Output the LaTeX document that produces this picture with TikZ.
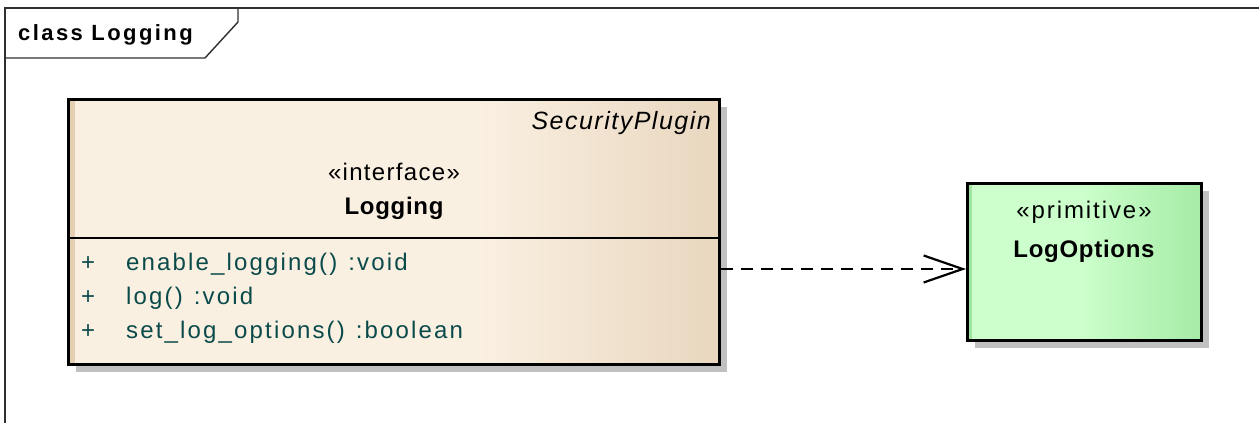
\documentclass[tikz,border=0pt]{standalone}
\usepackage{fontspec}
\setmainfont{Liberation Sans}
\newfontfamily\titlefont[LetterSpace=11]{Liberation Sans}
\newfontfamily\pkgfont[LetterSpace=6]{Liberation Sans}
\newfontfamily\ifacefont[LetterSpace=5.5]{Liberation Sans}
\newfontfamily\primfont[LetterSpace=8]{Liberation Sans}
\newfontfamily\namefont[LetterSpace=3]{Liberation Sans}
\newfontfamily\opfont[LetterSpace=9]{Liberation Sans}
\usetikzlibrary{arrows.meta}

\definecolor{beigeL}{HTML}{FAF0E2}
\definecolor{beigeR}{HTML}{E9D7BF}
\definecolor{beigeStripe}{HTML}{E4CFB2}
\definecolor{greenL}{HTML}{CCFFCC}
\definecolor{greenR}{HTML}{A6EBA6}
\definecolor{greenStripe}{HTML}{A0E4A0}
\definecolor{shadowgray}{HTML}{C0C0C0}
\definecolor{optext}{HTML}{0A4A4A}
\definecolor{framecol}{HTML}{303030}

\tikzset{
  classbox/.style={draw=black, line width=3pt, inner sep=0pt, anchor=north west},
  txt/.style={inner sep=0pt, text=black},
  optxt/.style={inner sep=0pt, anchor=base west, text=optext},
  framepen/.style={draw=framecol, line width=1.4pt},
  depline/.style={line width=2.2pt, dash pattern=on 12pt off 8pt,
    -{Straight Barb[length=39pt, width=27pt, line width=2.2pt]}}
}
\newcommand\opsize{\fontsize{24pt}{28pt}\selectfont}

\begin{document}
\begin{tikzpicture}[x=1pt, y=-1pt]
\useasboundingbox (0,0) rectangle (1259,423);
\fill[white] (0,0) rectangle (1259,423);

% diagram frame with its name tab
\draw[framepen] (1259,8) -- (5,8) -- (5,423);
\draw[framepen] (5,58) -- (205,58) -- (238,22) -- (238,8);
\node[txt, anchor=base west] (title) at (18,40)
  {\titlefont\bfseries\fontsize{22pt}{25pt}\selectfont class Logging};

% interface Logging: shadow, fill, stripe, outline
\fill[shadowgray] (76,107) rectangle (727,372);
\fill[beigeL] (67,98) rectangle (475,363);
\shade[left color=beigeL, right color=beigeR] (475,98) rectangle (718,363);
\fill[beigeStripe] (67,98) rectangle (75,363);
\node[classbox, minimum width=651pt, minimum height=265pt] (logging) at (67,98) {};
\coordinate (divy) at (0,238);
\draw[line width=2.5pt] (logging.west |- divy) -- (logging.east |- divy);

\node[txt, anchor=base east] (pkg) at (711,129)
  {\pkgfont\itshape\fontsize{25pt}{29pt}\selectfont SecurityPlugin};
\node[txt, anchor=base] (ster1) at (394,180)
  {\ifacefont\fontsize{24pt}{28pt}\selectfont «interface»};
\node[txt, anchor=base] (name1) at (394,214)
  {\namefont\bfseries\fontsize{24pt}{28pt}\selectfont Logging};

\node[optxt] (p1) at (81,270) {\opfont\opsize +};
\node[optxt] (p2) at (81,304) {\opfont\opsize +};
\node[optxt] (p3) at (81,338) {\opfont\opsize +};
\node[optxt] (op1) at (126,270)
  {\opfont\opsize enable\_logging()\hspace*{11pt}:void};
\node[optxt] (op2) at (126,304)
  {\opfont\opsize log()\hspace*{11pt}:void};
\node[optxt] (op3) at (126,338)
  {\opfont\opsize set\_log\_options()\hspace*{11pt}:boolean};

% primitive LogOptions
\fill[shadowgray] (975,191) rectangle (1209,348);
\fill[greenL] (966,182) rectangle (1080,339);
\shade[left color=greenL, right color=greenR] (1080,182) rectangle (1200,339);
\fill[greenStripe] (966,182) rectangle (972,339);
\node[classbox, minimum width=234pt, minimum height=157pt] (logopt) at (966,182) {};
\node[txt, anchor=base] (ster2) at (1084,218)
  {\primfont\fontsize{24pt}{28pt}\selectfont «primitive»};
\node[txt, anchor=base] (name2) at (1084,257)
  {\namefont\bfseries\fontsize{24pt}{28pt}\selectfont LogOptions};

% dependency
\coordinate (dep) at (0,269);
\draw[depline] (logging.east |- dep) -- (logopt.west |- dep);
\end{tikzpicture}
\end{document}
